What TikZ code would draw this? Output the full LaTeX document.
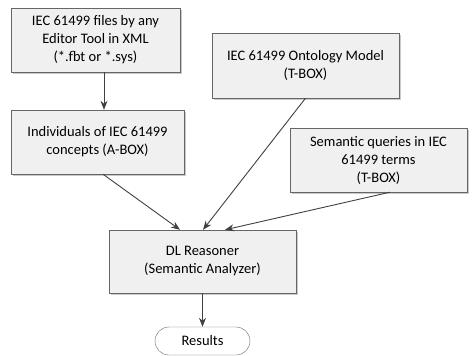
\documentclass[tikz,border=0pt]{standalone}
\usepackage{fontspec}
\setmainfont{Carlito}
\usetikzlibrary{arrows.meta, shadows, shapes.misc}
\tikzset{
    blk/.style={draw=black!60, fill=black!6, align=center, inner sep=2pt,
        font=\fontsize{14.5}{18}\selectfont,
        drop shadow={shadow xshift=1.5pt, shadow yshift=-1.5pt, fill=black!35, opacity=0.6}},
    term/.style={draw=black!60, fill=white, rounded rectangle, align=center, inner sep=2pt,
        font=\fontsize{14.5}{18}\selectfont},
    bd/.style={>={Stealth[length=9pt, width=7pt]}, draw=black!75, line width=0.9pt}
}
\begin{document}
\begin{tikzpicture}[x=1pt, y=-1pt]
    \useasboundingbox (0,0) rectangle (472,356);
    \node[blk, minimum width=169pt, minimum height=64pt] (files) at (95.5,40)
        {IEC 61499 files by any\\Editor Tool in XML\\(*.fbt or *.sys)};
    \node[blk, minimum width=173pt, minimum height=64pt] (ind) at (97.5,142)
        {Individuals of IEC 61499\\concepts (A-BOX)};
    \node[blk, minimum width=187pt, minimum height=65pt] (onto) at (305.5,65.5)
        {IEC 61499 Ontology Model\\(T-BOX)};
    \node[blk, minimum width=177pt, minimum height=64pt] (query) at (378.5,160)
        {Semantic queries in IEC\\61499 terms\\(T-BOX)};
    \node[blk, minimum width=187pt, minimum height=63pt] (dl) at (202.5,261.5)
        {DL Reasoner\\(Semantic Analyzer)};
    \node[term, minimum width=99pt, minimum height=28pt] (res) at (202.5,341) {Results};

    \draw[bd, ->] ([xshift=8.5pt]files.south) -- ([xshift=6.5pt]ind.north);
    \draw[bd, ->] ([xshift=5.5pt]ind.south) -- ([xshift=-22.5pt]dl.north);
    \draw[bd, ->] (onto.south) -- ([xshift=0.5pt]dl.north);
    \draw[bd, ->] ([xshift=11.5pt]query.south) -- ([xshift=22.5pt]dl.north);
    \draw[bd, ->] (dl.south) -- (res.north);
\end{tikzpicture}
\end{document}
